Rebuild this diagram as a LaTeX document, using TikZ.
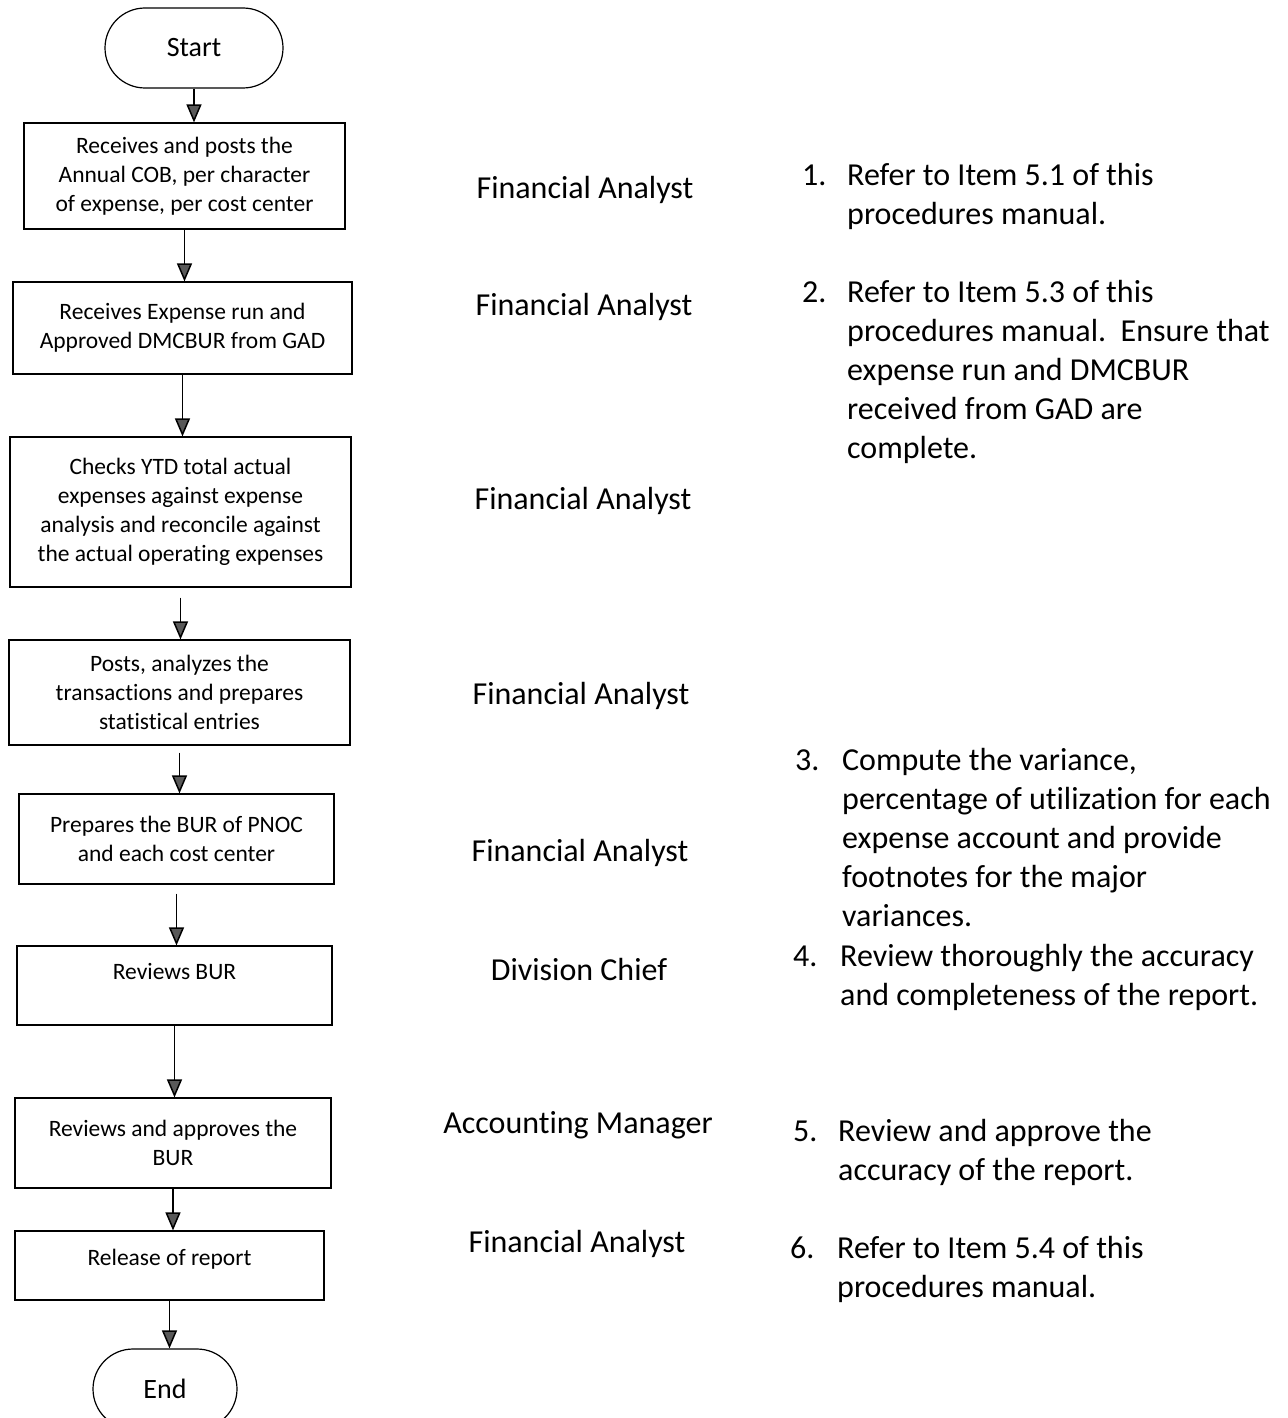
\documentclass[tikz,border=0pt]{standalone}
\usepackage{fontspec}
\setmainfont{Carlito}[Ligatures=NoCommon]
\usetikzlibrary{positioning,arrows.meta}

\begin{document}
\begin{tikzpicture}[
    x=1pt, y=-1pt,
    stepbox/.style={rectangle, draw=black, line width=1.2pt, align=center, inner sep=0pt, font=\fontsize{23.5}{29}\selectfont},
    termnode/.style={rectangle, rounded corners=40pt, draw=black, line width=1.2pt, minimum height=80pt, font=\fontsize{28}{34}\selectfont},
    rolenode/.style={inner sep=0pt, font=\fontsize{32}{39}\selectfont},
    notenode/.style={inner sep=0pt, anchor=base west, font=\fontsize{32}{39}\selectfont},
    flow/.style={->, >={Triangle[length=18pt, width=15pt, fill=black!65]}, draw=black, line width=1.5pt}
    ]
        \useasboundingbox (0,0) rectangle (1287,1418);

        %Nodes
        \node[termnode, minimum width=178pt] (start) at (194,48) {Start};
        \node[stepbox, minimum width=321pt, minimum height=106pt]
            (b1) at (184.5,176) {Receives and posts the\\Annual COB, per character\\of expense, per cost center};
        \node[stepbox, minimum width=339pt, minimum height=92pt]
            (b2) at (182.5,328) {Receives Expense run and\\Approved DMCBUR from GAD};
        \node[stepbox, minimum width=341pt, minimum height=150pt]
            (b3) at (180.5,512) {Checks YTD total actual\\expenses against expense\\analysis and reconcile against\\the actual operating expenses};
        \node[stepbox, minimum width=341pt, minimum height=105pt]
            (b4) at (179.5,692.5) {Posts, analyzes the\\transactions and prepares\\statistical entries};
        \node[stepbox, minimum width=315pt, minimum height=90pt]
            (b5) at (176.5,839) {Prepares the BUR of PNOC\\and each cost center};
        \node[stepbox, minimum width=315pt, minimum height=79pt]
            (b6) at (174.5,985.5) {Reviews BUR\\\mbox{}};
        \node[stepbox, minimum width=316pt, minimum height=90pt]
            (b7) at (173,1143) {Reviews and approves the\\BUR};
        \node[stepbox, minimum width=309pt, minimum height=69pt]
            (b8) at (169.5,1265.5) {Release of report\\[-12pt]\mbox{}};
        \node[termnode, minimum width=144pt] (end) at (165,1389) {End};

        %Roles
        \node[rolenode] (r1) at (585,190) {Financial Analyst};
        \node[rolenode] (r2) at (584,307) {Financial Analyst};
        \node[rolenode] (r3) at (583,501) {Financial Analyst};
        \node[rolenode] (r4) at (581,696) {Financial Analyst};
        \node[rolenode] (r5) at (580,853) {Financial Analyst};
        \node[rolenode] (r6) at (579,969) {Division Chief};
        \node[rolenode] (r7) at (578,1125) {Accounting Manager};
        \node[rolenode] (r8) at (577,1244) {Financial Analyst};

        %Notes
        \node[notenode] (n1) at (802,185) {\begin{tabular}[t]{@{}p{45pt}@{}l@{}}
            1. & Refer to Item 5.1 of this\\ & procedures manual.\end{tabular}};
        \node[notenode] (n2) at (802,302) {\begin{tabular}[t]{@{}p{45pt}@{}l@{}}
            2. & Refer to Item 5.3 of this\\ & procedures manual.\ \ Ensure that\\
               & expense run and DMCBUR\\ & received from GAD are\\ & complete.\end{tabular}};
        \node[notenode] (n3) at (795,770) {\begin{tabular}[t]{@{}p{47pt}@{}l@{}}
            3. & Compute the variance,\\ & percentage of utilization for each\\
               & expense account and provide\\ & footnotes for the major\\ & variances.\end{tabular}};
        \node[notenode] (n4) at (793,966) {\begin{tabular}[t]{@{}p{47pt}@{}l@{}}
            4. & Review thoroughly the accuracy\\ & and completeness of the report.\end{tabular}};
        \node[notenode] (n5) at (793,1141) {\begin{tabular}[t]{@{}p{45pt}@{}l@{}}
            5. & Review and approve the\\ & accuracy of the report.\end{tabular}};
        \node[notenode] (n6) at (790,1258) {\begin{tabular}[t]{@{}p{47pt}@{}l@{}}
            6. & Refer to Item 5.4 of this\\ & procedures manual.\end{tabular}};

        %Lines
        \draw[flow] (start.south) -- (start.south |- b1.north);
        \draw[flow] (b1.south) -- (b1.south |- b2.north);
        \draw[flow] (b2.south) -- (b2.south |- b3.north);
        \draw[flow, shorten <=10pt] (b3.south) -- (b3.south |- b4.north);
        \draw[flow, shorten <=7pt] (b4.south) -- (b4.south |- b5.north);
        \draw[flow, shorten <=9pt] (b5.south) -- (b5.south |- b6.north);
        \draw[flow] (b6.south) -- (b6.south |- b7.north);
        \draw[flow] (b7.south) -- (b7.south |- b8.north);
        \draw[flow] (b8.south) -- (b8.south |- end.north);
    \end{tikzpicture}
\end{document}
